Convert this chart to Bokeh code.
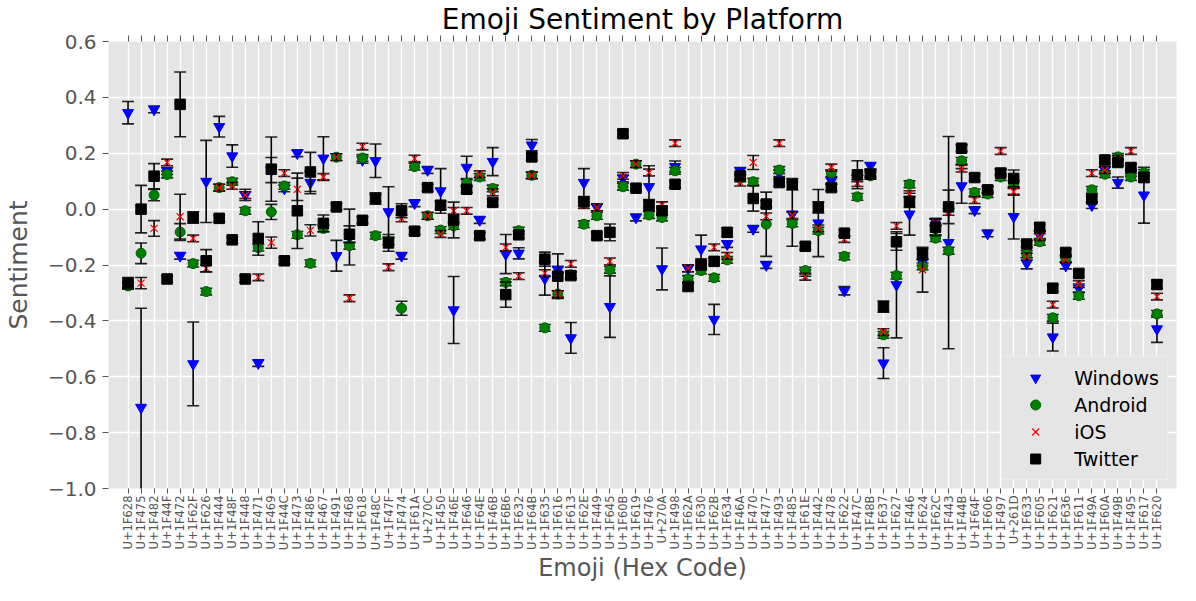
from bokeh.plotting import figure
from bokeh.models import (FactorRange, Range1d, CategoricalAxis, FixedTicker,
                          CustomJSTickFormatter, Legend, LegendItem)
from bokeh.embed import file_html
from bokeh.resources import INLINE
import math

codes = ["U+1F628", "U+1F475", "U+1F482", "U+1F44F", "U+1F472", "U+1F62F", "U+1F626", "U+1F444",
         "U+1F48F", "U+1F448", "U+1F471", "U+1F469", "U+1F44C", "U+1F473", "U+1F486", "U+1F467",
         "U+1F491", "U+1F468", "U+1F618", "U+1F48C", "U+1F47F", "U+1F474", "U+1F61A", "U+270C",
         "U+1F450", "U+1F46E", "U+1F646", "U+1F64E", "U+1F46B", "U+1F6B6", "U+1F632", "U+1F64B",
         "U+1F635", "U+1F616", "U+1F613", "U+1F62E", "U+1F449", "U+1F645", "U+1F60B", "U+1F619",
         "U+1F476", "U+270A", "U+1F498", "U+1F62A", "U+1F630", "U+1F62B", "U+1F634", "U+1F46A",
         "U+1F470", "U+1F477", "U+1F493", "U+1F485", "U+1F61E", "U+1F442", "U+1F478", "U+1F622",
         "U+1F47C", "U+1F48B", "U+1F637", "U+1F627", "U+1F446", "U+1F624", "U+1F62C", "U+1F443",
         "U+1F44B", "U+1F64F", "U+1F606", "U+1F497", "U+261D", "U+1F633", "U+1F605", "U+1F621",
         "U+1F636", "U+1F611", "U+1F49A", "U+1F60A", "U+1F49B", "U+1F495", "U+1F617", "U+1F620"]

windows = [0.345, -0.71, 0.357, 0.137, -0.167, -0.554, 0.099, 0.295, 0.19, 0.051,
           -0.551, 0.14, 0.074, 0.2, 0.095, 0.182, -0.167, -0.1, 0.176, 0.173,
           -0.01, -0.167, 0.021, 0.14, 0.065, -0.361, 0.149, -0.039, 0.17, -0.161,
           -0.158, 0.229, -0.248, -0.217, -0.461, 0.095, 0.006, -0.349, 0.11, -0.03,
           0.08, -0.214, 0.152, -0.212, -0.143, -0.395, -0.125, 0.137, -0.071, -0.2,
           0.129, -0.018, -0.228, -0.05, 0.101, -0.292, 0.11, 0.155, -0.551, -0.271,
           -0.018, -0.19, -0.045, -0.12, 0.083, -0.004, -0.087, 0.133, -0.027, -0.194,
           -0.093, -0.458, -0.202, -0.283, 0.014, 0.14, 0.095, 0.13, 0.05, -0.429]
windows_err = [0.04, 0.355, 0.012, 0.012, 0.012, 0.15, 0.147, 0.037, 0.04, 0.02,
               0.012, 0.045, 0.012, 0.012, 0.04, 0.077, 0.055, 0.1, 0.012, 0.06,
               0.09, 0.012, 0.012, 0.012, 0.08, 0.12, 0.04, 0.012, 0.05, 0.07,
               0.02, 0.02, 0.06, 0.012, 0.055, 0.05, 0.012, 0.11, 0.012, 0.012,
               0.075, 0.075, 0.02, 0.012, 0.05, 0.054, 0.012, 0.012, 0.012, 0.012,
               0.012, 0.115, 0.012, 0.12, 0.012, 0.015, 0.012, 0.012, 0.055, 0.19,
               0.075, 0.012, 0.012, 0.38, 0.062, 0.012, 0.012, 0.012, 0.08, 0.02,
               0.015, 0.05, 0.012, 0.015, 0.012, 0.012, 0.02, 0.012, 0.1, 0.048]

android = [-0.275, -0.158, 0.05, 0.124, -0.082, -0.195, -0.295, 0.077, 0.098, -0.006,
           -0.138, -0.01, 0.083, -0.092, -0.194, -0.069, 0.186, -0.131, 0.183, -0.095,
           -0.115, -0.355, 0.152, -0.024, -0.075, -0.06, 0.093, 0.115, 0.074, -0.262,
           -0.077, 0.121, -0.425, -0.304, -0.235, -0.054, -0.024, -0.217, 0.08, 0.161,
           -0.021, -0.03, 0.137, -0.25, -0.22, -0.246, -0.182, 0.11, 0.098, -0.054,
           0.14, -0.051, -0.22, -0.077, 0.129, -0.169, 0.044, 0.119, -0.45, -0.238,
           0.089, -0.205, -0.104, -0.149, 0.173, 0.06, 0.054, 0.115, 0.089, -0.161,
           -0.117, -0.389, -0.176, -0.31, 0.069, 0.125, 0.187, 0.115, 0.13, -0.375]
android_err = [0.012, 0.037, 0.02, 0.012, 0.03, 0.012, 0.012, 0.012, 0.012, 0.012,
               0.012, 0.027, 0.012, 0.012, 0.012, 0.012, 0.012, 0.012, 0.012, 0.012,
               0.012, 0.025, 0.012, 0.012, 0.012, 0.012, 0.012, 0.012, 0.012, 0.012,
               0.012, 0.012, 0.012, 0.012, 0.012, 0.012, 0.012, 0.012, 0.012, 0.012,
               0.012, 0.012, 0.012, 0.012, 0.012, 0.012, 0.012, 0.012, 0.012, 0.115,
               0.012, 0.012, 0.012, 0.012, 0.012, 0.012, 0.012, 0.012, 0.012, 0.012,
               0.012, 0.012, 0.012, 0.012, 0.012, 0.012, 0.012, 0.012, 0.012, 0.012,
               0.012, 0.012, 0.012, 0.012, 0.012, 0.012, 0.012, 0.012, 0.012, 0.012]

ios = [-0.27, -0.265, -0.069, 0.167, -0.027, -0.105, -0.212, 0.077, 0.083, 0.05,
       -0.244, -0.12, 0.129, 0.071, -0.076, 0.115, 0.186, -0.319, 0.224, 0.04,
       -0.208, -0.033, 0.181, -0.024, -0.089, -0.006, -0.006, 0.125, 0.06, -0.137,
       -0.24, 0.121, -0.229, -0.304, -0.196, 0.014, 0.006, -0.187, 0.119, 0.161,
       0.131, 0.014, 0.236, -0.212, -0.19, -0.137, -0.167, 0.095, 0.167, -0.026,
       0.236, -0.022, -0.242, -0.069, 0.149, -0.107, 0.093, 0.13, -0.44, -0.06,
       0.054, -0.217, -0.048, -0.01, 0.145, 0.032, 0.07, 0.208, 0.062, -0.17,
       -0.1, -0.342, -0.18, -0.268, 0.129, 0.14, 0.18, 0.208, 0.12, -0.313]
ios_err = [0.012, 0.02, 0.028, 0.012, 0.08, 0.012, 0.012, 0.012, 0.012, 0.012,
           0.012, 0.02, 0.012, 0.04, 0.02, 0.012, 0.012, 0.012, 0.012, 0.012,
           0.012, 0.012, 0.012, 0.012, 0.012, 0.012, 0.012, 0.012, 0.012, 0.012,
           0.012, 0.012, 0.012, 0.012, 0.012, 0.012, 0.012, 0.012, 0.012, 0.012,
           0.012, 0.012, 0.012, 0.012, 0.012, 0.012, 0.012, 0.012, 0.025, 0.012,
           0.012, 0.012, 0.012, 0.012, 0.012, 0.012, 0.012, 0.012, 0.012, 0.012,
           0.012, 0.08, 0.012, 0.012, 0.012, 0.012, 0.012, 0.012, 0.012, 0.012,
           0.012, 0.012, 0.012, 0.012, 0.012, 0.012, 0.012, 0.012, 0.012, 0.012]

twitter = [-0.265, 0.0, 0.118, -0.25, 0.375, -0.03, -0.185, -0.033, -0.11, -0.25,
           -0.105, 0.143, -0.185, -0.006, 0.133, -0.051, 0.008, -0.09, -0.04, 0.038,
           -0.121, -0.006, -0.079, 0.077, 0.014, -0.039, 0.071, -0.095, 0.024, -0.306,
           -0.092, 0.187, -0.179, -0.24, -0.238, 0.026, -0.095, -0.083, 0.27, 0.075,
           0.014, -0.006, 0.089, -0.277, -0.2, -0.187, -0.083, 0.119, 0.038, 0.018,
           0.095, 0.089, -0.133, 0.006, 0.077, -0.086, 0.123, 0.125, -0.349, -0.117,
           0.026, -0.161, -0.065, 0.008, 0.218, 0.113, 0.069, 0.129, 0.11, -0.125,
           -0.065, -0.283, -0.155, -0.23, 0.036, 0.176, 0.167, 0.149, 0.113, -0.27]
twitter_err = [0.02, 0.085, 0.045, 0.012, 0.116, 0.02, 0.04, 0.012, 0.012, 0.012,
               0.06, 0.115, 0.012, 0.135, 0.07, 0.03, 0.012, 0.03, 0.012, 0.02,
               0.03, 0.025, 0.012, 0.012, 0.015, 0.064, 0.012, 0.012, 0.012, 0.045,
               0.012, 0.012, 0.025, 0.08, 0.012, 0.012, 0.012, 0.03, 0.012, 0.012,
               0.02, 0.015, 0.012, 0.012, 0.015, 0.012, 0.015, 0.012, 0.045, 0.012,
               0.012, 0.02, 0.012, 0.02, 0.012, 0.012, 0.05, 0.012, 0.02, 0.03,
               0.02, 0.02, 0.03, 0.06, 0.012, 0.012, 0.012, 0.012, 0.03, 0.012,
               0.012, 0.012, 0.012, 0.012, 0.012, 0.012, 0.012, 0.012, 0.015, 0.015]

y_ticks = [-1.0, -0.8, -0.6, -0.4, -0.2, 0.0, 0.2, 0.4, 0.6]

FONT = "DejaVu Sans"
GREY = "#555555"

p = figure(width=1180, height=585,
           x_range=FactorRange(factors=codes, range_padding=1, range_padding_units="absolute"),
           y_range=Range1d(-1.0, 0.6),
           output_backend="svg", toolbar_location=None,
           min_border_left=100, min_border_right=4, min_border_top=30, min_border_bottom=60,
           title="Emoji Sentiment by Platform")

p.background_fill_color = "#e5e5e5"
p.border_fill_color = "white"
p.outline_line_color = None

p.title.align = "center"
p.title.text_font = FONT
p.title.text_font_size = "28px"
p.title.text_font_style = "normal"
p.title.text_color = "black"
p.title.standoff = 0
p.title.offset = 0

p.xgrid.grid_line_color = "white"
p.ygrid.grid_line_color = "white"
p.xgrid.grid_line_width = 1.3
p.ygrid.grid_line_width = 1.3

# y axis
p.yaxis.ticker = FixedTicker(ticks=y_ticks)
p.yaxis.formatter = CustomJSTickFormatter(
    code="return (tick < -1e-9 ? '\u2212' : '') + Math.abs(tick).toFixed(1);")
p.yaxis.axis_label = "Sentiment"
p.yaxis.axis_line_color = None
p.yaxis.major_tick_out = 6
p.yaxis.major_tick_in = 0
p.yaxis.minor_tick_out = 0
p.yaxis.minor_tick_in = 0
p.yaxis.major_tick_line_color = GREY
p.yaxis.major_label_text_font = FONT
p.yaxis.major_label_text_font_size = "20px"
p.yaxis.major_label_text_color = GREY
p.yaxis.major_label_standoff = 6
p.yaxis.axis_label_text_font = FONT
p.yaxis.axis_label_text_font_size = "25px"
p.yaxis.axis_label_text_font_style = "normal"
p.yaxis.axis_label_text_color = GREY
p.yaxis.axis_label_standoff = 12

# x axis
p.xaxis.axis_label = "Emoji (Hex Code)"
p.xaxis.axis_line_color = None
p.xaxis.major_tick_out = 5
p.xaxis.major_tick_in = 0
p.xaxis.major_tick_line_color = GREY
p.xaxis.major_label_orientation = math.pi / 2
p.xaxis.major_label_text_font = FONT
p.xaxis.major_label_text_font_size = "11.5px"
p.xaxis.major_label_text_color = GREY
p.xaxis.major_label_standoff = 2
p.xaxis.axis_label_text_font = FONT
p.xaxis.axis_label_text_font_size = "24px"
p.xaxis.axis_label_text_font_style = "normal"
p.xaxis.axis_label_text_color = GREY
p.xaxis.axis_label_standoff = 1

top_axis = CategoricalAxis()
top_axis.axis_line_color = None
top_axis.major_tick_out = 6
top_axis.major_tick_in = 0
top_axis.major_tick_line_color = GREY
top_axis.major_label_text_font_size = "0px"
top_axis.major_label_text_color = None
top_axis.major_label_standoff = 0
p.add_layout(top_axis, "above")

series = [
    ("Windows", windows, windows_err, dict(marker="inverted_triangle", size=11, fill_color="#0000ff", line_color="#0000ff")),
    ("Android", android, android_err, dict(marker="circle", size=10, fill_color="#008000", line_color="#006000")),
    ("iOS", ios, ios_err, dict(marker="x", size=10, line_color="#ff0000", line_width=1.2)),
    ("Twitter", twitter, twitter_err, dict(marker="square", size=10.5, fill_color="black", line_color="black")),
]

items = []
for name, vals, errs, style in series:
    upper = [v + e for v, e in zip(vals, errs)]
    lower = [v - e for v, e in zip(vals, errs)]
    p.segment(x0=codes, y0=lower, x1=codes, y1=upper, line_color="black", line_width=1.6)
    p.scatter(x=codes, y=upper, marker="dash", size=12, line_color="black", line_width=1.6, line_alpha=0.85)
    p.scatter(x=codes, y=lower, marker="dash", size=12, line_color="black", line_width=1.6, line_alpha=0.85)
    r = p.scatter(x=codes, y=vals, **style)
    items.append(LegendItem(label=name, renderers=[r]))

legend = Legend(items=items, location="bottom_right")
legend.label_text_font = FONT
legend.label_text_font_size = "19px"
legend.label_text_color = "black"
legend.background_fill_color = "#e5e5e5"
legend.background_fill_alpha = 1.0
legend.border_line_color = "#f4f4f4"
legend.border_line_width = 1.5
legend.glyph_width = 50
legend.glyph_height = 25
legend.spacing = 2
legend.padding = 8
legend.margin = 8
legend.label_standoff = 14
p.add_layout(legend)

open("out.html", "w").write(file_html(p, INLINE))
